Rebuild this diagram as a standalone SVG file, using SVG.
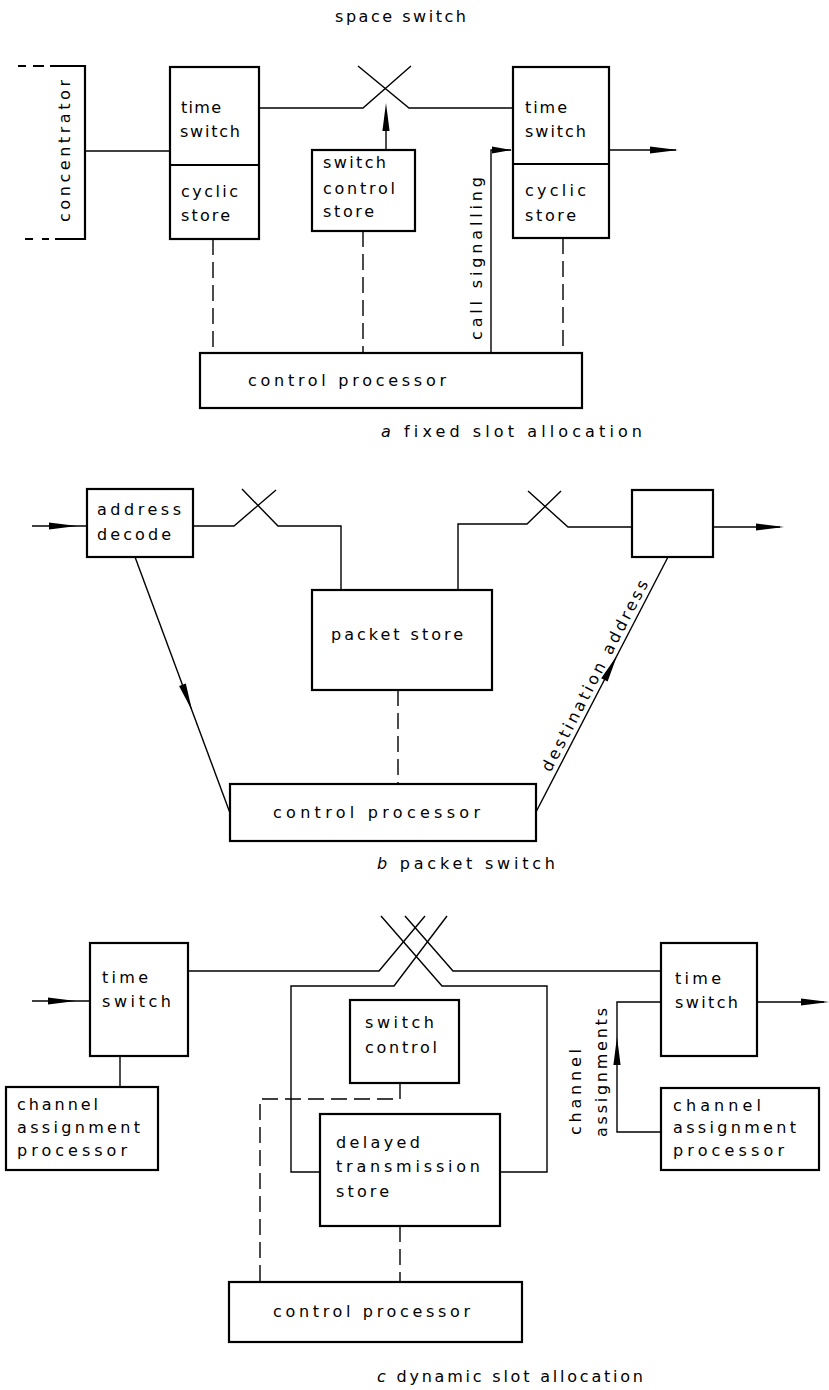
<svg xmlns="http://www.w3.org/2000/svg" xmlns:xlink="http://www.w3.org/1999/xlink" width="829" height="1390" viewBox="0 0 829 1390">
<style>
.box{fill:none;stroke:#000;stroke-width:2.2}
.ln{fill:none;stroke:#000;stroke-width:1.4}
.dash{fill:none;stroke:#000;stroke-width:1.4;stroke-dasharray:16 7}
text{font-family:"DejaVu Sans","Liberation Sans",Arial,sans-serif;font-size:16px;letter-spacing:2px;fill:#000}
.it{font-style:italic}
</style>
<defs>
<path id="ah" d="M0,0 L-28,-3.6 L-28,3.6 Z" fill="#000"/>
<path id="ahs" d="M0,0 L-20,-3.4 L-20,3.4 Z" fill="#000"/>
</defs>
<rect width="829" height="1390" fill="#fff"/>

<!-- ===== Section a ===== -->
<text x="335" y="22" textLength="133" lengthAdjust="spacing">space switch</text>

<g id="a-concentrator">
<path class="box" d="M50,66 H85 V239 H55"/>
<path class="box" d="M18,66 H26 M33,66 H44 M25,239 H33 M42,239 H49"/>
<text transform="translate(70,222) rotate(-90)" textLength="144" lengthAdjust="spacing">concentrator</text>
</g>

<g id="a-timeswitch-left">
<rect class="box" x="170" y="67" width="89" height="172"/>
<line class="box" x1="170" y1="165" x2="259" y2="165"/>
<text x="181" y="113" textLength="42" lengthAdjust="spacing">time</text>
<text x="180" y="137" textLength="62" lengthAdjust="spacing">switch</text>
<text x="181" y="197" textLength="59" lengthAdjust="spacing">cyclic</text>
<text x="181" y="221" textLength="51" lengthAdjust="spacing">store</text>
</g>

<g id="a-switchcontrolstore">
<rect class="box" x="312" y="150" width="103" height="81"/>
<text x="323" y="168" textLength="65" lengthAdjust="spacing">switch</text>
<text x="323" y="194" textLength="74" lengthAdjust="spacing">control</text>
<text x="323" y="217" textLength="53" lengthAdjust="spacing">store</text>
</g>

<g id="a-timeswitch-right">
<rect class="box" x="513" y="67" width="96" height="171"/>
<line class="box" x1="513" y1="164" x2="609" y2="164"/>
<text x="525" y="113" textLength="44" lengthAdjust="spacing">time</text>
<text x="525" y="137" textLength="63" lengthAdjust="spacing">switch</text>
<text x="525" y="196" textLength="63" lengthAdjust="spacing">cyclic</text>
<text x="525" y="221" textLength="53" lengthAdjust="spacing">store</text>
</g>

<g id="a-controlprocessor">
<rect class="box" x="200" y="353" width="382" height="55"/>
<text x="248" y="386" textLength="200" lengthAdjust="spacing">control processor</text>
</g>

<text x="381" y="437" textLength="263" lengthAdjust="spacing"><tspan class="it">a</tspan> fixed slot allocation</text>

<g id="a-connectors">
<line class="ln" x1="85" y1="151" x2="170" y2="151"/>
<path class="ln" d="M259,108 H363 L411,66"/>
<path class="ln" d="M358,66 L409,108 H513"/>
<line class="ln" x1="386" y1="150" x2="386" y2="110"/>
<use xlink:href="#ah" href="#ah" transform="translate(386,103) rotate(-90)"/>
<line class="ln" x1="609" y1="150" x2="676" y2="150"/>
<use xlink:href="#ah" href="#ah" transform="translate(678,150) rotate(0)"/>
<path class="ln" d="M491,353 V150 H511"/>
<use xlink:href="#ahs" href="#ahs" transform="translate(512,150) rotate(0)"/>
<text transform="translate(482,340) rotate(-90)" textLength="165" lengthAdjust="spacing">call signalling</text>
<line class="dash" x1="213" y1="239" x2="213" y2="353"/>
<line class="dash" x1="363" y1="231" x2="363" y2="353"/>
<line class="dash" x1="563" y1="238" x2="563" y2="353"/>
</g>

<!-- ===== Section b ===== -->
<g id="b-addressdecode">
<rect class="box" x="87" y="489" width="106" height="68"/>
<text x="97" y="515" textLength="86" lengthAdjust="spacing">address</text>
<text x="97" y="540" textLength="76" lengthAdjust="spacing">decode</text>
</g>

<g id="b-packetstore">
<rect class="box" x="312" y="590" width="180" height="100"/>
<text x="331" y="640" textLength="134" lengthAdjust="spacing">packet store</text>
</g>

<g id="b-outbox">
<rect class="box" x="632" y="490" width="81" height="67"/>
</g>

<g id="b-controlprocessor">
<rect class="box" x="230" y="784" width="306" height="57"/>
<text x="273" y="818" textLength="209" lengthAdjust="spacing">control processor</text>
</g>

<text x="377" y="869" textLength="180" lengthAdjust="spacing"><tspan class="it">b</tspan> packet switch</text>

<g id="b-connectors">
<line class="ln" x1="32" y1="526" x2="87" y2="526"/>
<use xlink:href="#ah" href="#ah" transform="translate(77,526) rotate(0)"/>
<path class="ln" d="M193,526 H234 L276,490"/>
<path class="ln" d="M242,489 L278,526 H341 V590"/>
<path class="ln" d="M458,590 V524 H527 L561,491"/>
<path class="ln" d="M528,491 L568,527 H632"/>
<line class="ln" x1="713" y1="527" x2="780" y2="527"/>
<use xlink:href="#ah" href="#ah" transform="translate(784,527) rotate(0)"/>
<line class="ln" x1="135" y1="557" x2="230" y2="813"/>
<use xlink:href="#ah" href="#ah" transform="translate(192.2,711) rotate(69.6)"/>
<line class="ln" x1="536" y1="812" x2="668" y2="557"/>
<use xlink:href="#ah" href="#ah" transform="translate(617.3,655) rotate(-62.6)"/>
<text transform="translate(550.6,772.7) rotate(-62.6)" textLength="215" lengthAdjust="spacing">destination address</text>
<line class="dash" x1="398" y1="690" x2="398" y2="784"/>
</g>

<!-- ===== Section c ===== -->
<g id="c-timeswitch-left">
<rect class="box" x="90" y="943" width="98" height="113"/>
<text x="102" y="983" textLength="48" lengthAdjust="spacing">time</text>
<text x="102" y="1007" textLength="71" lengthAdjust="spacing">switch</text>
</g>

<g id="c-channelproc-left">
<rect class="box" x="6" y="1087" width="152" height="83"/>
<text x="17" y="1110" textLength="83" lengthAdjust="spacing">channel</text>
<text x="17" y="1133" textLength="125" lengthAdjust="spacing">assignment</text>
<text x="17" y="1156" textLength="112" lengthAdjust="spacing">processor</text>
</g>

<g id="c-switchcontrol">
<rect class="box" x="350" y="1000" width="109" height="83"/>
<text x="365" y="1028" textLength="71" lengthAdjust="spacing">switch</text>
<text x="365" y="1053" textLength="74" lengthAdjust="spacing">control</text>
</g>

<g id="c-delayedstore">
<rect class="box" x="320" y="1114" width="180" height="112"/>
<text x="336" y="1148" textLength="86" lengthAdjust="spacing">delayed</text>
<text x="336" y="1172" textLength="146" lengthAdjust="spacing">transmission</text>
<text x="336" y="1197" textLength="55" lengthAdjust="spacing">store</text>
</g>

<g id="c-timeswitch-right">
<rect class="box" x="661" y="943" width="96" height="113"/>
<text x="675" y="984" textLength="48" lengthAdjust="spacing">time</text>
<text x="675" y="1008" textLength="65" lengthAdjust="spacing">switch</text>
</g>

<g id="c-channelproc-right">
<rect class="box" x="661" y="1088" width="158" height="82"/>
<text x="673" y="1111" textLength="90" lengthAdjust="spacing">channel</text>
<text x="673" y="1133" textLength="125" lengthAdjust="spacing">assignment</text>
<text x="673" y="1156" textLength="113" lengthAdjust="spacing">processor</text>
</g>

<g id="c-controlprocessor">
<rect class="box" x="229" y="1282" width="293" height="60"/>
<text x="273" y="1317" textLength="199" lengthAdjust="spacing">control processor</text>
</g>

<text x="377" y="1382" textLength="268" lengthAdjust="spacing"><tspan class="it">c</tspan> dynamic slot allocation</text>

<g id="c-connectors">
<line class="ln" x1="32" y1="1001" x2="90" y2="1001"/>
<use xlink:href="#ah" href="#ah" transform="translate(76,1001) rotate(0)"/>
<line class="ln" x1="120" y1="1056" x2="120" y2="1087"/>
<path class="ln" d="M188,971 H379 L425,916"/>
<path class="ln" d="M405,916 L453,971 H661"/>
<path class="ln" d="M381,916 L442,986 H547 V1172 H500"/>
<path class="ln" d="M447,916 L394,986 H291 V1172 H320"/>
<line class="ln" x1="757" y1="1002" x2="824" y2="1002"/>
<use xlink:href="#ah" href="#ah" transform="translate(829,1002) rotate(0)"/>
<path class="ln" d="M661,1132 H617 V1002 H661"/>
<use xlink:href="#ah" href="#ah" transform="translate(617,1037) rotate(-90)"/>
<text transform="translate(581,1135) rotate(-90)" textLength="88" lengthAdjust="spacing">channel</text>
<text transform="translate(607,1137) rotate(-90)" textLength="131" lengthAdjust="spacing">assignments</text>
<path class="dash" d="M400,1083 V1099 H260 V1282"/>
<line class="dash" x1="400" y1="1226" x2="400" y2="1282"/>
</g>
</svg>
